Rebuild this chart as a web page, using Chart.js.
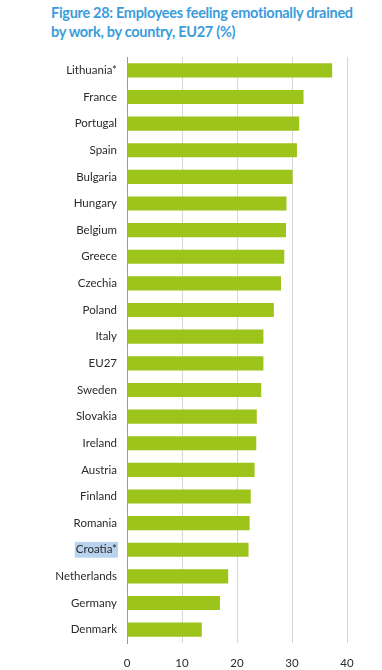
<!DOCTYPE html>
<html>
<head>
<meta charset="utf-8">
<script src="https://cdn.jsdelivr.net/npm/chart.js@4/dist/chart.umd.min.js"></script>
<style>
  html, body { margin: 0; padding: 0; background: #fff; }
  #wrap { position: relative; width: 382px; height: 670px; }
  #title { position: absolute; left: 51px; top: 3px; font-family: Lato, sans-serif; font-weight: bold; font-size: 14.5px; letter-spacing: -0.3px; line-height: 19px; color: #3b9cdc; white-space: nowrap; }
  canvas { position: absolute; left: 0; top: 0; }
</style>
</head>
<body>
<div id="wrap">
  <div id="title">Figure 28: Employees feeling emotionally drained<br>by work, by country, EU27 (%)</div>
  <canvas id="c" width="382" height="670"></canvas>
</div>
<script>
const categories = ["Lithuania*", "France", "Portugal", "Spain", "Bulgaria", "Hungary", "Belgium", "Greece", "Czechia", "Poland", "Italy", "EU27", "Sweden", "Slovakia", "Ireland", "Austria", "Finland", "Romania", "Croatia*", "Netherlands", "Germany", "Denmark"];
const values = [37.3, 32.1, 31.3, 30.9, 30.1, 29.0, 28.9, 28.6, 28.0, 26.7, 24.8, 24.8, 24.4, 23.6, 23.5, 23.2, 22.5, 22.3, 22.1, 18.4, 16.9, 13.6];
const xTicks = [0, 10, 20, 30, 40];
const highlighted = "Croatia*";

const chart = new Chart(document.getElementById('c'), {
  type: 'bar',
  data: {
    labels: categories,
    datasets: [{
      data: values,
      backgroundColor: '#9cc41b',
      borderWidth: 0,
      categoryPercentage: 1,
      barPercentage: 0.53
    }]
  },
  options: {
    indexAxis: 'y',
    responsive: false,
    animation: false,
    events: [],
    layout: { padding: { left: 0, right: 35, top: 57, bottom: 0 } },
    plugins: { legend: { display: false }, tooltip: { enabled: false }, title: { display: false } },
    scales: {
      x: {
        min: 0, max: 40,
        afterBuildTicks: s => { s.ticks = xTicks.map(v => ({ value: v })); },
        afterFit: s => { s.height = 27; },
        grid: { color: ctx => ctx.tick && ctx.tick.value === 0 ? 'rgba(0,0,0,0)' : '#d6d6d6', drawTicks: false, lineWidth: 1 },
        border: { display: false },
        ticks: { color: '#2a2a2a', font: { family: 'Lato', size: 11.5 }, padding: 13, maxRotation: 0 }
      },
      y: {
        afterFit: s => { s.width = 127; },
        grid: { display: false, drawTicks: false },
        border: { display: true, color: '#9a9a9a', width: 1 },
        ticks: {
          color: '#2a2a2a',
          font: { family: 'Lato', size: 11.5 },
          padding: 10,
          showLabelBackdrop: ctx => categories[ctx.index] === highlighted,
          backdropColor: ctx => categories[ctx.index] === highlighted ? '#b9d3ee' : 'rgba(0,0,0,0)',
          backdropPadding: { top: 1, bottom: 1, left: 1, right: 1 }
        }
      }
    }
  }
});
</script>
</body>
</html>
